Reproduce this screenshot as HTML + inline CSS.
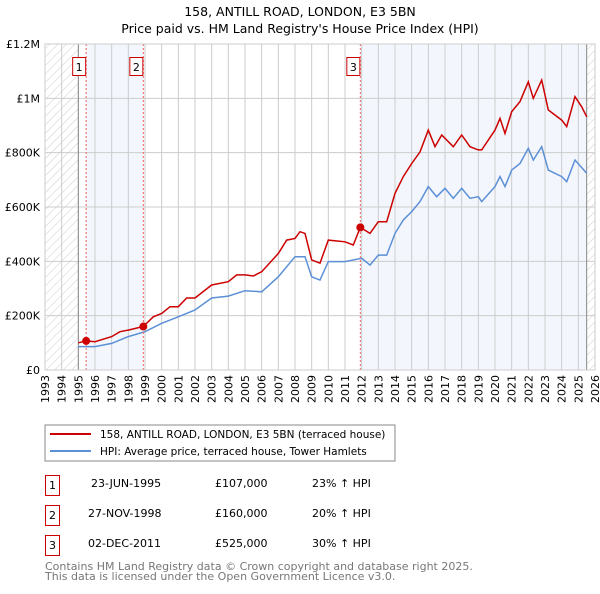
<!DOCTYPE html>
<html><head><meta charset="utf-8"><style>
body{margin:0;background:#fff;font-family:"DejaVu Sans","Liberation Sans",sans-serif;}
svg text{font-family:"DejaVu Sans","Liberation Sans",sans-serif;}
</style></head><body>
<svg id="chart" width="600" height="590" xmlns="http://www.w3.org/2000/svg">
<defs><pattern id="hatch" width="6" height="6" patternUnits="userSpaceOnUse" patternTransform="rotate(45)"><line x1="0" y1="0" x2="0" y2="6" stroke="#ccc" stroke-width="1"/></pattern></defs>
<text x="300" y="16" text-anchor="middle" font-size="12.5" fill="#000">158, ANTILL ROAD, LONDON, E3 5BN</text>
<text x="300" y="33" text-anchor="middle" font-size="12.5" fill="#000">Price paid vs. HM Land Registry's House Price Index (HPI)</text>
<g id="plot"></g>
<g>
<rect x="45" y="425" width="350" height="36" fill="#fff" stroke="#888"/>
<line x1="50" y1="434" x2="91" y2="434" stroke="#cc0000" stroke-width="2"/>
<text x="100" y="438" font-size="10.5">158, ANTILL ROAD, LONDON, E3 5BN (terraced house)</text>
<line x1="50" y1="451" x2="91" y2="451" stroke="#5b8fd6" stroke-width="2"/>
<text x="100" y="455" font-size="10.5">HPI: Average price, terraced house, Tower Hamlets</text>
</g>
<g font-size="11">
<rect x="45.5" y="475.5" width="14" height="20" fill="#fff" stroke="#cc0000"/><text x="52.5" y="489" text-anchor="middle">1</text>
<text x="91" y="487">23-JUN-1995</text><text x="215" y="487">£107,000</text><text x="312" y="487">23% ↑ HPI</text>
<rect x="45.5" y="505.5" width="14" height="20" fill="#fff" stroke="#cc0000"/><text x="52.5" y="519" text-anchor="middle">2</text>
<text x="88" y="517">27-NOV-1998</text><text x="215" y="517">£160,000</text><text x="312" y="517">20% ↑ HPI</text>
<rect x="45.5" y="535.5" width="14" height="20" fill="#fff" stroke="#cc0000"/><text x="52.5" y="549" text-anchor="middle">3</text>
<text x="88" y="547">02-DEC-2011</text><text x="215" y="547">£525,000</text><text x="312" y="547">30% ↑ HPI</text>
</g>
<text x="45" y="570" font-size="11" fill="#777">Contains HM Land Registry data © Crown copyright and database right 2025.</text>
<text x="45" y="580" font-size="11" fill="#777">This data is licensed under the Open Government Licence v3.0.</text>
</svg>
<script>
const yearTicks=[1993,1994,1995,1996,1997,1998,1999,2000,2001,2002,2003,2004,2005,2006,2007,2008,2009,2010,2011,2012,2013,2014,2015,2016,2017,2018,2019,2020,2021,2022,2023,2024,2025,2026];
const valueTicks=[0,200000,400000,600000,800000,1000000,1200000];
const valueTickLabels=["£0","£200K","£400K","£600K","£800K","£1M","£1.2M"];
const hpiDates=[1995.0,1996,1997,1998,1999,2000,2001,2002,2003,2004,2005,2006,2007,2008,2008.6,2009,2009.5,2010,2011,2012,2012.5,2013,2013.5,2014,2014.5,2015,2015.5,2016,2016.5,2017,2017.5,2018,2018.5,2019,2019.2,2020,2020.3,2020.6,2021,2021.5,2022,2022.3,2022.8,2023.2,2024,2024.3,2024.8,2025.5];
const hpiValues=[86,86,98,123,141,172,196,221,265,272,292,288,343,417,417,343,331,399,399,411,386,423,423,503,552,583,620,675,638,669,632,669,632,638,620,675,712,675,736,760,816,773,822,736,712,693,773,724];
const priceDates=[1995.0,1995.47,1996,1997,1997.5,1998,1998.9,1999.5,2000,2000.5,2001,2001.5,2002,2003,2004,2004.5,2005,2005.5,2006,2007,2007.5,2008,2008.3,2008.6,2009,2009.5,2010,2011,2011.5,2011.92,2012.5,2013,2013.5,2014,2014.5,2015,2015.5,2016,2016.4,2016.8,2017.5,2018,2018.5,2019,2019.2,2020,2020.3,2020.6,2021,2021.5,2022,2022.3,2022.8,2023.2,2024,2024.3,2024.8,2025.2,2025.5];
const priceValues=[100,107,104,123,141,147,160,196,208,233,233,265,265,313,325,350,350,346,362,429,478,484,509,503,405,393,478,472,460,525,503,546,546,650,712,760,803,883,822,865,822,865,822,810,810,883,926,871,951,988,1061,1000,1067,957,920,896,1006,969,932];
const saleDates=[1995.47,1998.9,2011.92];
const saleValues=[107000,160000,525000];
const saleLabels=["1","2","3"];
const NS="http://www.w3.org/2000/svg";
const X0=45,X1=595,Y0=370,Y1=44;
const xs=t=>X0+(t-1993)/(2026-1993)*(X1-X0);
const ys=v=>Y0-v/1200000*(Y0-Y1);
const g=document.getElementById('plot');
function mk(tag,attrs,parent){const e=document.createElementNS(NS,tag);for(const k in attrs)e.setAttribute(k,attrs[k]);(parent||g).appendChild(e);return e;}
let e;
e=mk('rect',{x:xs(1993),y:Y1,width:xs(1995)-xs(1993),height:Y0-Y1,fill:'url(#hatch)'});


e=mk('rect',{x:xs(2025.5),y:Y1,width:X1-xs(2025.5),height:Y0-Y1,fill:'url(#hatch)'});


e=mk('rect',{x:xs(saleDates[0]),y:Y1,width:xs(saleDates[1])-xs(saleDates[0]),height:Y0-Y1,fill:'#eef3fc',opacity:0.7});


e=mk('rect',{x:xs(saleDates[2]),y:Y1,width:xs(2025.5)-xs(saleDates[2]),height:Y0-Y1,fill:'#eef3fc',opacity:0.7});


yearTicks.forEach(t=>{
 e=mk('line',{x1:xs(t),x2:xs(t),y1:Y1,y2:Y0,stroke:'#ccc','stroke-width':1});
 
 
 const tx=xs(t)+4;
 e=mk('text',{x:tx,y:375,'font-size':11,'text-anchor':'end',transform:`rotate(-90 ${tx} 375)`});
 e.textContent=t;
 
 
});
valueTicks.forEach((v,i)=>{
 e=mk('line',{x1:X0,x2:X1,y1:ys(v),y2:ys(v),stroke:'#ccc','stroke-width':1});
 
 
 e=mk('text',{x:40,y:ys(v)+4,'font-size':11,'text-anchor':'end'});
 e.textContent=valueTickLabels[i];
 
 
});
e=mk('line',{x1:xs(1995),x2:xs(1995),y1:Y1,y2:Y0,stroke:'#888'});


e=mk('line',{x1:xs(2025.5),x2:xs(2025.5),y1:Y1,y2:Y0,stroke:'#888'});


const pts=(d,v)=>d.map((t,i)=>xs(t).toFixed(1)+','+ys(v[i]*1000).toFixed(1)).join(' ');
e=mk('polyline',{points:pts(hpiDates,hpiValues),fill:'none',stroke:'#5b8fd6','stroke-width':1.5});


e=mk('polyline',{points:pts(priceDates,priceValues),fill:'none',stroke:'#cc0000','stroke-width':1.5});


saleDates.forEach((t,i)=>{
 e=mk('line',{x1:xs(t),x2:xs(t),y1:Y1,y2:Y0,stroke:'#f06060','stroke-dasharray':'2,2'});
 
 
 e=mk('circle',{cx:xs(t),cy:ys(saleValues[i]),r:4,fill:'#cc0000'});
 
 
 e=mk('rect',{x:xs(t)-13.5,y:57.5,width:13,height:18,fill:'#fff',stroke:'#cc0000'});
 
 
 e=mk('text',{x:xs(t)-7,y:71,'font-size':11,'text-anchor':'middle'});
 e.textContent=saleLabels[i];
 
 
});
e=mk('rect',{x:X0,y:Y1,width:X1-X0,height:Y0-Y1,fill:'none',stroke:'#ccc'});


</script>
</body></html>
